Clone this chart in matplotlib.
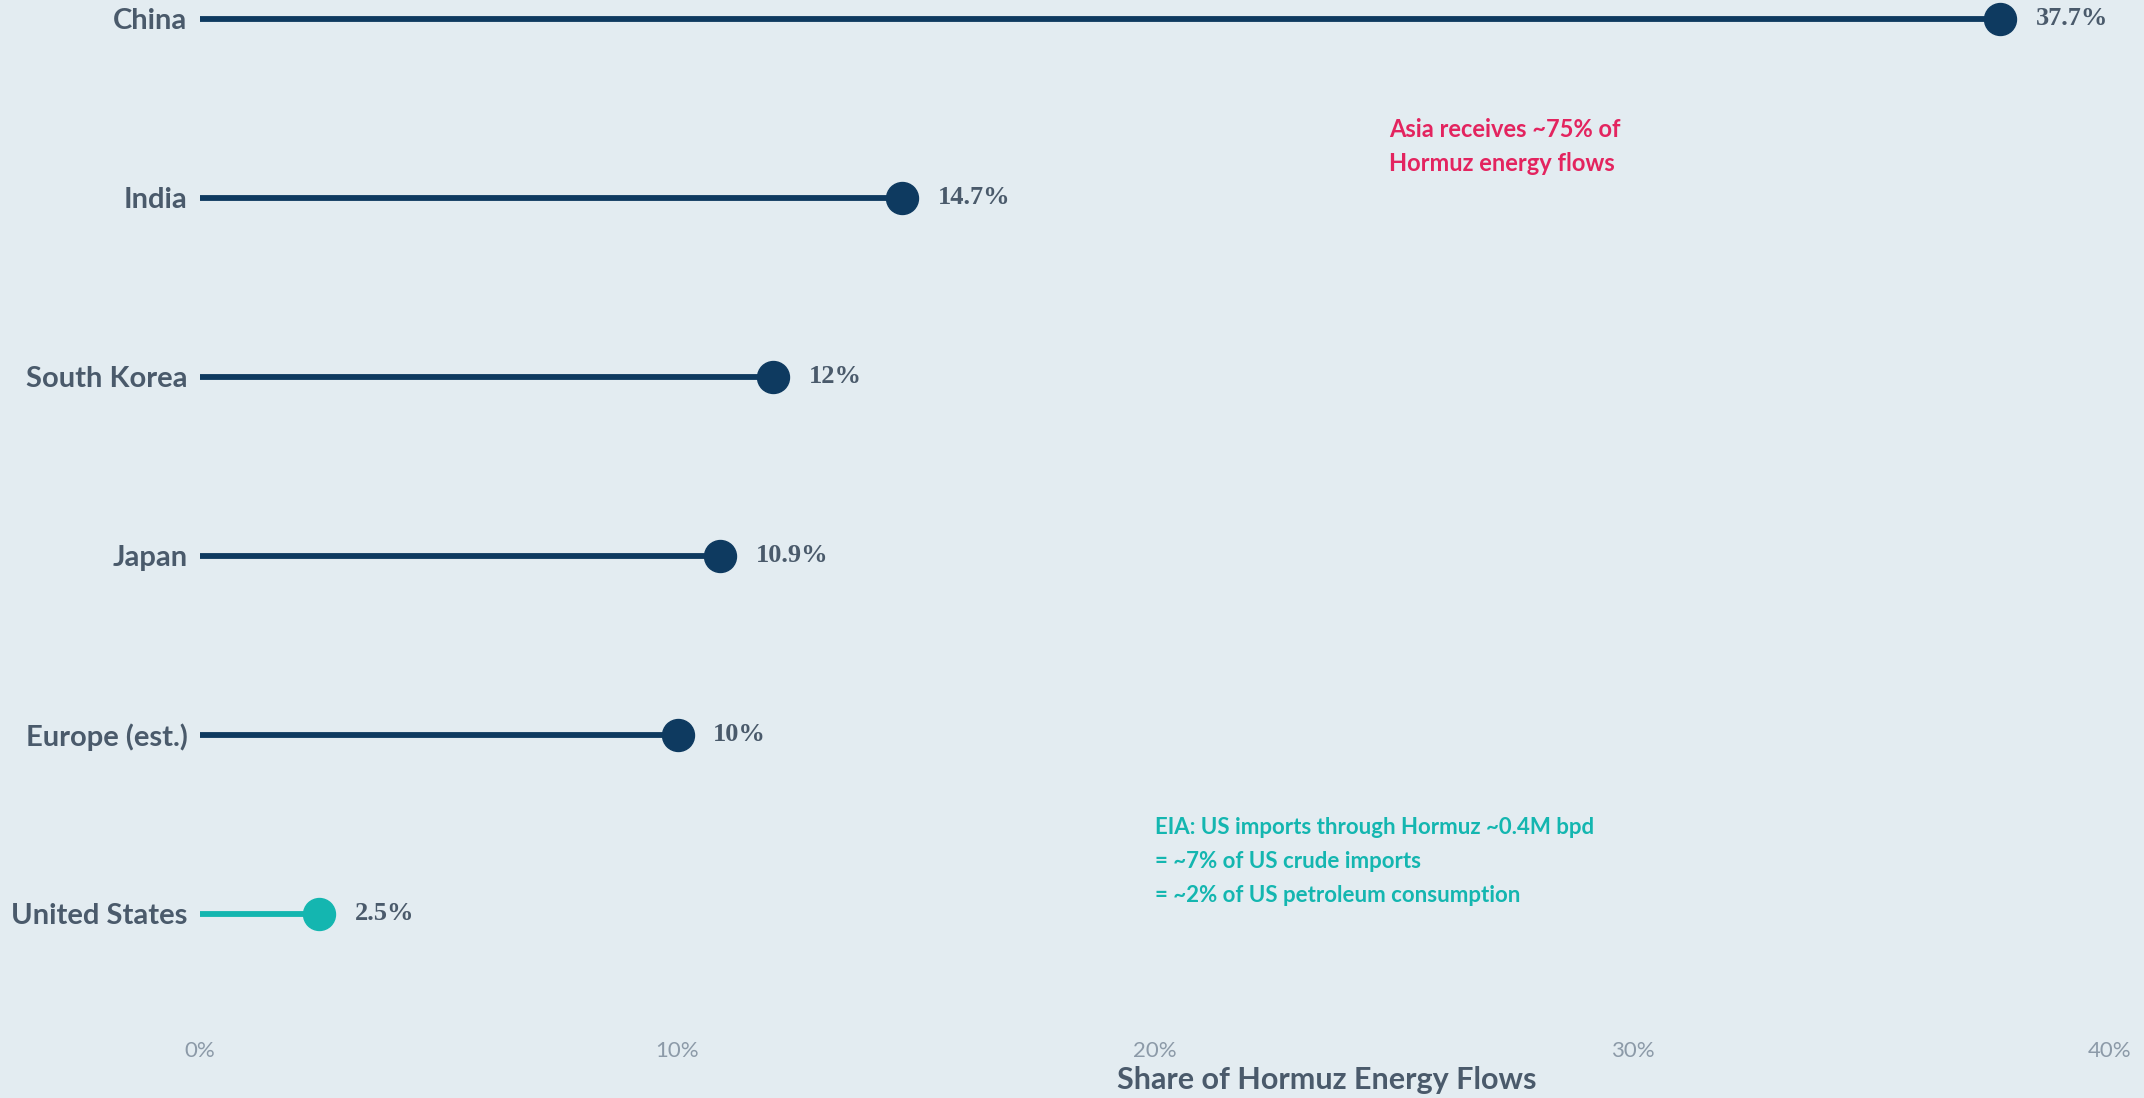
import matplotlib
matplotlib.use("Agg")
import matplotlib.pyplot as plt
from matplotlib.ticker import FuncFormatter

regions = ["China", "India", "South Korea", "Japan", "Europe (est.)", "United States"]
shares = [37.7, 14.7, 12.0, 10.9, 10.0, 2.5]
value_labels = ["37.7%", "14.7%", "12%", "10.9%", "10%", "2.5%"]
xticks = [0, 10, 20, 30, 40]

bg = "#e3ecf1"
navy = "#0e3a60"
teal = "#14b6b0"
pink = "#e3245f"
textc = "#4a5a6b"

W, H = 2144, 1098
fig = plt.figure(figsize=(W / 100, H / 100), dpi=100, facecolor=bg)
ax = fig.add_axes([200 / W, 1 - 1030 / H, (2110 - 200) / W, 1030 / H])
ax.set_facecolor(bg)

for i, (name, v, lab) in enumerate(zip(regions, shares, value_labels)):
    c = teal if name == "United States" else navy
    ax.plot([0, v], [i, i], color=c, lw=4.2, solid_capstyle="butt", zorder=2)
    ax.plot(v, i, "o", color=c, ms=23, zorder=3)
    ax.text(v + 0.75, i, lab, va="center", ha="left", fontsize=19,
            fontweight="bold", color=textc, family=["Liberation Serif", "DejaVu Serif"])

ax.set_xlim(0, 40)
ax.set_ylim(5.65, -0.106)
ax.set_yticks(range(len(regions)))
ax.set_yticklabels(regions, fontsize=21, fontweight="bold", color=textc, family="Lato")
ax.set_xticks(xticks)
ax.xaxis.set_major_formatter(FuncFormatter(lambda x, p: f"{x:.0f}%"))
for t in ax.get_xticklabels():
    t.set_fontsize(16)
    t.set_color("#8c9aa8")
    t.set_family("Lato")
ax.tick_params(length=0, pad=9)
ax.tick_params(axis="x", pad=8)
for s in ax.spines.values():
    s.set_visible(False)

fig.text(1327 / W, 1 - 1080 / H, "Share of Hormuz Energy Flows", fontsize=22,
         fontweight="bold", color=textc, family="Lato", ha="center", va="center")

ax.text(24.9, 0.615, "Asia receives ~75% of", color=pink, fontsize=17,
        fontweight="bold", family="Lato", va="center")
ax.text(24.9, 0.805, "Hormuz energy flows", color=pink, fontsize=17,
        fontweight="bold", family="Lato", va="center")

notes = ["EIA: US imports through Hormuz ~0.4M bpd",
         "= ~7% of US crude imports",
         "= ~2% of US petroleum consumption"]
for k, line in enumerate(notes):
    ax.text(20.0, 4.52 + 0.19 * k, line, color=teal, fontsize=16,
            fontweight="bold", family="Lato", va="center")

fig.savefig("out.png", dpi=100, facecolor=bg)
